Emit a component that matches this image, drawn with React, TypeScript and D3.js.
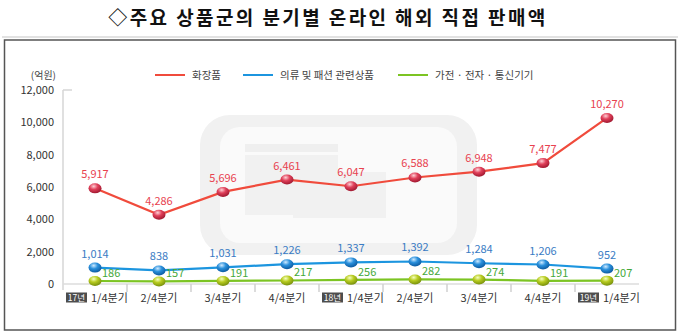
import React from "react";
import * as d3 from "d3";

const categories = ["1/4분기", "2/4분기", "3/4분기", "4/4분기", "1/4분기", "2/4분기", "3/4분기", "4/4분기", "1/4분기"];
const yearBadges = ["17년", "", "", "", "18년", "", "", "", "19년"];
const cosmetics = [5917, 4286, 5696, 6461, 6047, 6588, 6948, 7477, 10270];
const fashion = [1014, 838, 1031, 1226, 1337, 1392, 1284, 1206, 952];
const electronics = [186, 157, 191, 217, 256, 282, 274, 191, 207];
const yTicks = [0, 2000, 4000, 6000, 8000, 10000, 12000];
const seriesNames = ["화장품", "의류 및 패션 관련상품", "가전 · 전자 · 통신기기"];

const FONT = "'Noto Sans CJK KR', 'Noto Sans', sans-serif";

export default function App() {
  const W = 680, H = 336;
  const x = d3.scalePoint<number>().domain(d3.range(categories.length)).range([95, 607]);
  const y = d3.scaleLinear().domain([0, 12000]).range([284, 90]);
  const fmt = d3.format(",");
  const line = d3.line<number>().x((_, i) => x(i)!).y((d) => y(d));

  const series = [
    { name: seriesNames[0], data: cosmetics, line: "#f04b3c", grad: "gRed", label: "#e8424f", pos: "top" },
    { name: seriesNames[1], data: fashion, line: "#1c95df", grad: "gBlue", label: "#3a7cc4", pos: "top" },
    { name: seriesNames[2], data: electronics, line: "#7cc423", grad: "gGreen", label: "#45a83a", pos: "right" },
  ];
  const legendX = [155, 243, 398];
  const step = x.step();

  return (
    <svg width={W} height={H} style={{ position: "absolute", left: 0, top: 0, background: "#fff" }} fontFamily={FONT}>
      <defs>
        <radialGradient id="gRed" cx="40%" cy="30%" r="70%">
          <stop offset="0%" stopColor="#ffd0d6" />
          <stop offset="45%" stopColor="#e0405a" />
          <stop offset="100%" stopColor="#a01830" />
        </radialGradient>
        <radialGradient id="gBlue" cx="40%" cy="30%" r="70%">
          <stop offset="0%" stopColor="#cfeaff" />
          <stop offset="45%" stopColor="#2a90dc" />
          <stop offset="100%" stopColor="#0c5aa0" />
        </radialGradient>
        <radialGradient id="gGreen" cx="40%" cy="30%" r="70%">
          <stop offset="0%" stopColor="#f6ffc0" />
          <stop offset="45%" stopColor="#b8cc20" />
          <stop offset="100%" stopColor="#78900c" />
        </radialGradient>
      </defs>
      <rect x={0} y={0} width={W} height={H} fill="#fff" />
      <text x={328} y={25} textAnchor="middle" fontSize={19} fontWeight="bold" fill="#111" letterSpacing={2.4}>
        ◇주요 상품군의 분기별 온라인 해외 직접 판매액
      </text>
      <line x1={2} x2={678} y1={37} y2={37} stroke="#d8d8d8" strokeWidth={1.5} />
      <rect x={4.5} y={40} width={671} height={290} fill="none" stroke="#555" strokeWidth={1.5} />

      {/* faint background logo */}
      <rect x={200} y={115} width={277} height={140} rx={30} fill="#f1f1f1" />
      <rect x={220} y={127} width={237} height={116} rx={20} fill="#fafafa" />
      <rect x={245} y={144} width={93} height={8} fill="#efefef" />
      <rect x={245} y={155} width={93} height={60} fill="#f1f1f1" />
      <rect x={293} y={172} width={93} height={46} fill="#f1f1f1" />

      {/* y axis */}
      <text x={56} y={79} textAnchor="end" fontSize={10} fill="#444">(억원)</text>
      <line x1={63} x2={63} y1={90} y2={290} stroke="#d6d6d6" strokeWidth={1.5} />
      <line x1={63} x2={72} y1={90} y2={90} stroke="#d6d6d6" strokeWidth={1.5} />
      {yTicks.map((t) => (
        <text key={t} x={54} y={y(t) + 4} textAnchor="end" fontSize={11} fill="#333">{fmt(t)}</text>
      ))}
      <line x1={63} x2={639} y1={y(0)} y2={y(0)} stroke="#dcdcdc" strokeWidth={1.5} />
      {d3.range(categories.length - 1).map((i) => (
        <line key={i} x1={x(i)! + step / 2} x2={x(i)! + step / 2} y1={y(0)} y2={y(0) + 8} stroke="#d0d0d0" strokeWidth={1.5} />
      ))}

      {/* x labels */}
      {categories.map((c, i) => {
        const badge = yearBadges[i];
        if (badge) {
          return (
            <g key={i}>
              <rect x={x(i)! - 29} y={292.5} width={21} height={10} fill="#4d4d4d" />
              <text x={x(i)! - 18.5} y={301} textAnchor="middle" fontSize={8.5} fill="#fff">{badge}</text>
              <text x={x(i)! - 4} y={302} fontSize={11} fill="#333">{c}</text>
            </g>
          );
        }
        return <text key={i} x={x(i)!} y={302} textAnchor="middle" fontSize={11} fill="#333">{c}</text>;
      })}

      {/* legend */}
      {series.map((s, i) => (
        <g key={s.name}>
          <line x1={legendX[i]} x2={legendX[i] + 30} y1={75} y2={75} stroke={s.line} strokeWidth={2} />
          <text x={legendX[i] + 37} y={79} fontSize={10.5} fill="#444">{s.name}</text>
        </g>
      ))}

      {/* series */}
      {series.map((s) => (
        <g key={s.name}>
          <path d={line(s.data)!} fill="none" stroke={s.line} strokeWidth={2.2} />
          {s.data.map((v, i) => (
            <ellipse key={i} cx={x(i)!} cy={y(v)} rx={6.5} ry={5} fill={`url(#${s.grad})`} />
          ))}
          {s.data.map((v, i) =>
            s.pos === "top" ? (
              <text key={"t" + i} x={x(i)!} y={y(v) - 10} textAnchor="middle" fontSize={11} fill={s.label}>{fmt(v)}</text>
            ) : (
              <text key={"t" + i} x={x(i)! + 7} y={y(v) - 4} fontSize={11} fill={s.label}>{fmt(v)}</text>
            )
          )}
        </g>
      ))}
    </svg>
  );
}
